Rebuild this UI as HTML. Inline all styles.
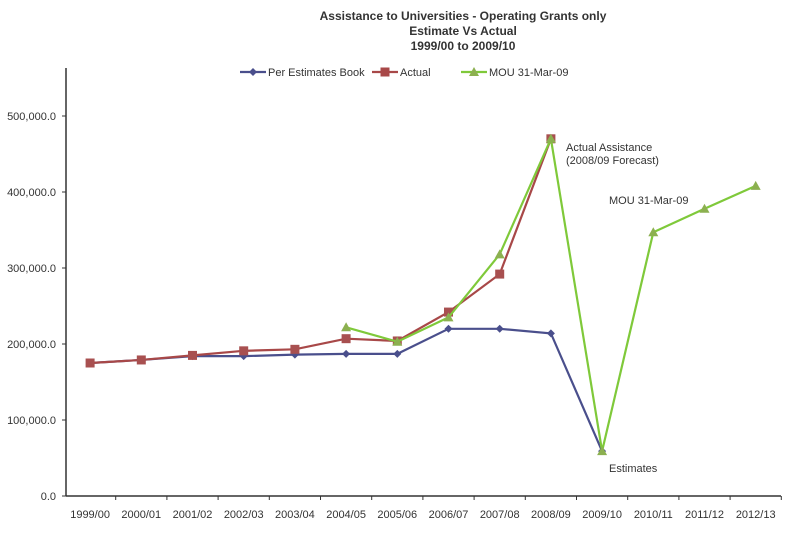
<!DOCTYPE html>
<html><head><meta charset="utf-8"><style>
body{margin:0;background:#fff;}
svg text{font-family:"Liberation Sans",sans-serif;}
</style></head><body>
<svg id="chart" width="800" height="530" xmlns="http://www.w3.org/2000/svg">
<g font-weight="bold" font-size="12" fill="#333" text-anchor="middle">
<text x="463" y="20">Assistance to Universities - Operating Grants only</text>
<text x="463" y="35">Estimate Vs Actual</text>
<text x="463" y="50">1999/00 to 2009/10</text>
</g>
<g id="legend" font-size="11" fill="#333"></g>
<g id="axes"></g>
<g id="series"></g>
<g font-size="11" fill="#333">
<text x="566" y="151">Actual Assistance</text>
<text x="566" y="164">(2008/09 Forecast)</text>
<text x="609" y="204">MOU    31-Mar-09</text>
<text x="609" y="472">Estimates</text>
</g>
</svg>
<script>
const categories=["1999/00","2000/01","2001/02","2002/03","2003/04","2004/05","2005/06","2006/07","2007/08","2008/09","2009/10","2010/11","2011/12","2012/13"];
const estimates=[175000,179000,184000,184000,186000,187000,187000,220000,220000,214000,59000,null,null,null];
const actual=[175000,179000,185000,191000,193000,207000,204000,242000,292000,470000,null,null,null,null];
const mou=[null,null,null,null,null,222000,203000,235000,318000,470000,59000,347000,378000,408000];
const yTicks=[0,100000,200000,300000,400000,500000];
const yTickLabels=["0.0","100,000.0","200,000.0","300,000.0","400,000.0","500,000.0"];
const NS="http://www.w3.org/2000/svg";
const x0=64.5,bw=51.2,yBase=496,yScale=76/100000;
const xp=i=>x0+bw*(i+0.5);
const yp=v=>yBase-v*yScale;
function mk(tag,attrs,parent){const e=document.createElementNS(NS,tag);for(const k in attrs)e.setAttribute(k,attrs[k]);parent.appendChild(e);return e;}
const axes=document.getElementById('axes');
let l=mk('line',{x1:66,y1:68,x2:66,y2:496,stroke:'#333','stroke-width':1.5},axes);


l=mk('line',{x1:66,y1:496,x2:781,y2:496,stroke:'#333','stroke-width':1.5},axes);


yTicks.forEach((v,i)=>{
 mk('line',{x1:62,y1:yp(v),x2:66,y2:yp(v),stroke:'#333'},axes);
 const t=mk('text',{x:56,y:yp(v)+4,'text-anchor':'end','font-size':11,fill:'#333'},axes);
 t.textContent=yTickLabels[i];
 
 
});
categories.forEach((c,i)=>{
 const bx=x0+bw*(i+1);
 mk('line',{x1:bx,y1:496,x2:bx,y2:500,stroke:'#333'},axes);
 const t=mk('text',{x:xp(i),y:518,'text-anchor':'middle','font-size':11,fill:'#333'},axes);
 t.textContent=c;
 
 
});
const sg=document.getElementById('series');
function marker(type,x,y,col,g){
 if(type==='d')return mk('path',{d:`M${x} ${y-4}L${x+4} ${y}L${x} ${y+4}L${x-4} ${y}Z`,fill:col},g);
 if(type==='s')return mk('rect',{x:x-4.5,y:y-4.5,width:9,height:9,fill:col},g);
 return mk('path',{d:`M${x} ${y-5}L${x+5} ${y+4}L${x-5} ${y+4}Z`,fill:col},g);
}
function drawSeries(vals,col,mcol,type,name){
 const g=mk('g',{},sg);
 
 
 let pts=[];vals.forEach((v,i)=>{if(v!==null)pts.push([xp(i),yp(v)]);});
 mk('polyline',{points:pts.map(p=>p.join(',')).join(' '),fill:'none',stroke:col,'stroke-width':2.2},g);
 pts.forEach(p=>{const m=marker(type,p[0],p[1],mcol,g);});
}
drawSeries(estimates,'#4a4f8c','#4a4f8c','d','series-per-estimates-book');
drawSeries(actual,'#a84848','#a85050','s','series-actual');
drawSeries(mou,'#7fc93a','#8cb050','t','series-mou');
const lg=document.getElementById('legend');
[['Per Estimates Book','#4a4f8c','d',240],['Actual','#a84848','s',372],['MOU 31-Mar-09','#7fc93a','t',461]].forEach(e=>{
 const g=mk('g',{},lg);
 
 
 mk('line',{x1:e[3],y1:72,x2:e[3]+26,y2:72,stroke:e[1],'stroke-width':2.2},g);
 marker(e[2],e[3]+13,72,e[2]==='t'?'#8cb050':e[1],g);
 const t=mk('text',{x:e[3]+28,y:76},g);t.textContent=e[0];
});
</script>
</body></html>
